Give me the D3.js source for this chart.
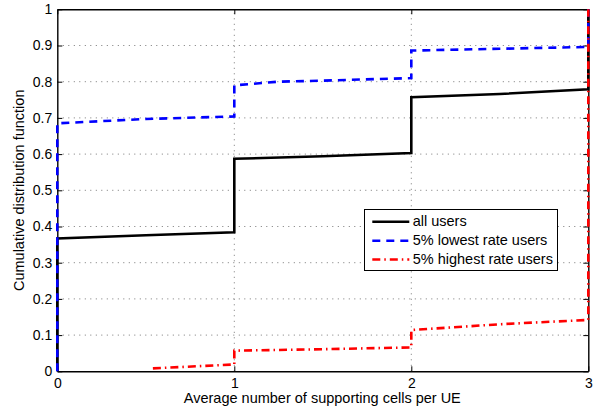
<!DOCTYPE html>
<html>
<head>
<meta charset="utf-8">
<script src="https://cdn.jsdelivr.net/npm/d3@7"></script>
<style>
  html, body { margin: 0; padding: 0; background: #fff; }
  svg { display: block; font-family: "Liberation Sans", Arial, Helvetica, sans-serif; }
</style>
</head>
<body>
<svg id="chart" width="595" height="409"></svg>
<script>
// Empirical CDFs of the average number of supporting cells per UE
const allUsersX   = [0, 0, 0.5, 1, 1, 1.5, 2, 2, 2.5, 3, 3];
const allUsersY   = [0, 0.367, 0.376, 0.384, 0.587, 0.594, 0.603, 0.757, 0.766, 0.779, 1];

const lowestRateX = [0, 0, 0.5, 1, 1, 1.25, 1.5, 2, 2, 2.5, 3, 3];
const lowestRateY = [0, 0.685, 0.697, 0.704, 0.790, 0.800, 0.803, 0.810, 0.886, 0.891, 0.896, 1];

const highestRateX = [0.54, 1, 1, 1.5, 2, 2, 2.5, 3, 3];
const highestRateY = [0.008, 0.019, 0.057, 0.061, 0.066, 0.114, 0.130, 0.142, 1];

const xTicks = [0, 1, 2, 3];
const yTicks = [0, 0.1, 0.2, 0.3, 0.4, 0.5, 0.6, 0.7, 0.8, 0.9, 1];
const seriesNames = ["all users", "5% lowest rate users", "5% highest rate users"];

const svg = d3.select("#chart");
const L = 57.3, R = 588.3, T = 9.3, B = 371.3;

const x = d3.scaleLinear().domain([0, 3]).range([L, R]);
const y = d3.scaleLinear().domain([0, 1]).range([B, T]);

// dotted grid
const grid = svg.append("g").attr("stroke", "#777").attr("stroke-width", 1)
  .attr("stroke-dasharray", "1,4.5");
grid.selectAll("line.v").data(xTicks.slice(1, -1)).join("line")
  .attr("x1", d => x(d)).attr("x2", d => x(d)).attr("y1", B).attr("y2", T);
grid.selectAll("line.h").data(yTicks.slice(1, -1)).join("line")
  .attr("x1", L).attr("x2", R).attr("y1", d => y(d)).attr("y2", d => y(d));

// axes with inward ticks on all four sides
const fmt = d3.format("");
function styleAxis(g) {
  g.select(".domain").attr("stroke", "#000").attr("stroke-width", 1.4);
  g.selectAll(".tick line").attr("stroke", "#000").attr("stroke-width", 1);
  g.selectAll(".tick text").attr("fill", "#000").attr("font-size", 14)
    .attr("font-family", "Liberation Sans, Arial, sans-serif");
}
svg.append("g").attr("transform", `translate(0,${B})`)
  .call(d3.axisBottom(x).tickValues(xTicks).tickFormat(fmt).tickSize(-5).tickSizeOuter(0).tickPadding(6.5))
  .call(styleAxis);
svg.append("g").attr("transform", `translate(${L},0)`)
  .call(d3.axisLeft(y).tickValues(yTicks).tickFormat(fmt).tickSize(-5).tickSizeOuter(0).tickPadding(5))
  .call(styleAxis);
svg.append("g").attr("transform", `translate(0,${T})`)
  .call(d3.axisTop(x).tickValues(xTicks).tickFormat("").tickSize(-5).tickSizeOuter(0))
  .call(styleAxis);
svg.append("g").attr("transform", `translate(${R},0)`)
  .call(d3.axisRight(y).tickValues(yTicks).tickFormat("").tickSize(-5).tickSizeOuter(0))
  .call(styleAxis);

// CDF curves
const line = d3.line().x(d => x(d[0])).y(d => y(d[1]));
const series = [
  { xs: allUsersX,    ys: allUsersY,    color: "#000",    dash: null },
  { xs: lowestRateX,  ys: lowestRateY,  color: "#0000ff", dash: "8,6" },
  { xs: highestRateX, ys: highestRateY, color: "#ff0000", dash: "8,4,1.5,4" }
];
series.forEach(s => {
  svg.append("path")
    .datum(d3.zip(s.xs, s.ys))
    .attr("d", line)
    .attr("fill", "none")
    .attr("stroke", s.color)
    .attr("stroke-width", 2.6)
    .attr("stroke-dasharray", s.dash);
});

// axis titles
svg.append("text")
  .attr("x", (L + R) / 2 - 0.5).attr("y", 403)
  .attr("text-anchor", "middle").attr("font-size", 14.5)
  .text("Average number of supporting cells per UE");
svg.append("text")
  .attr("transform", `translate(23.5,${(T + B) / 2}) rotate(-90)`)
  .attr("text-anchor", "middle").attr("font-size", 14.5)
  .text("Cumulative distribution function");

// legend
const lg = svg.append("g");
lg.append("rect").attr("x", 364.5).attr("y", 209.5).attr("width", 193).attr("height", 61)
  .attr("fill", "#fff").attr("stroke", "#000").attr("stroke-width", 1);
const rowY = [221.7, 240.7, 259.5];
series.forEach((s, i) => {
  lg.append("line").attr("x1", 372.3).attr("x2", 409.3)
    .attr("y1", rowY[i]).attr("y2", rowY[i])
    .attr("stroke", s.color).attr("stroke-width", 2.6)
    .attr("stroke-dasharray", s.dash);
  lg.append("text").attr("x", 412.7).attr("y", rowY[i] + 4.6)
    .attr("font-size", 14.5).text(seriesNames[i]);
});
</script>
</body>
</html>
